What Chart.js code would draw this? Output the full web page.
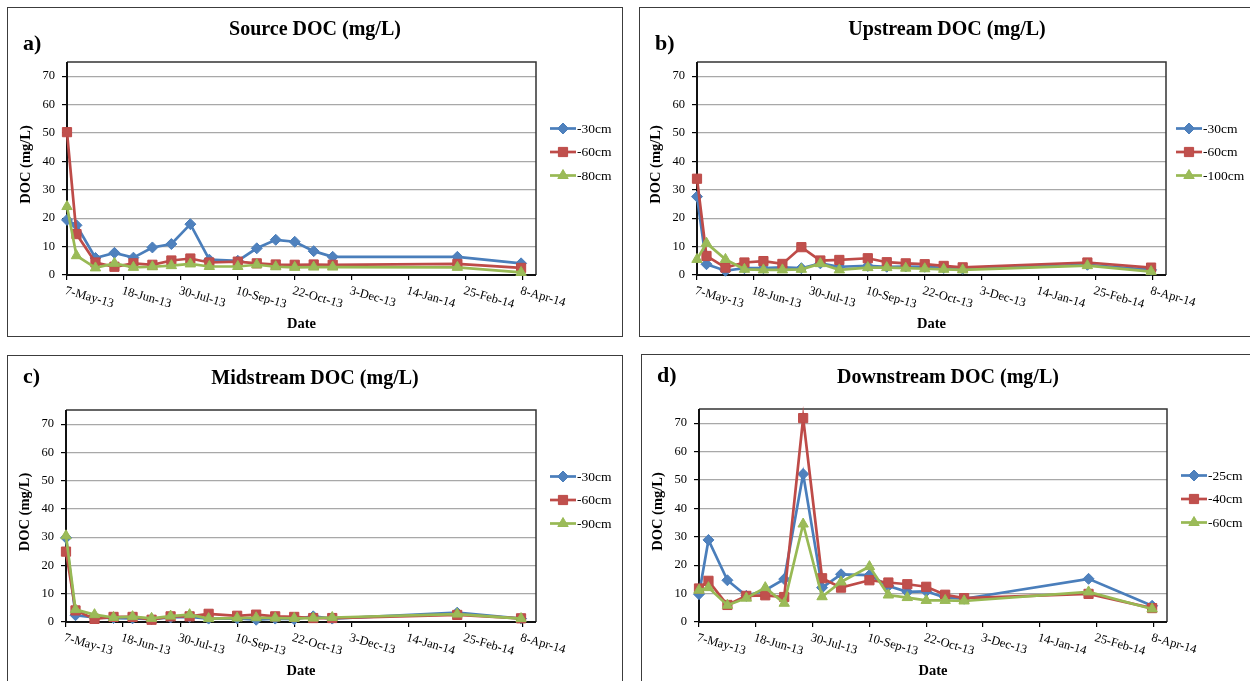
<!DOCTYPE html>
<html>
<head>
<meta charset="utf-8">
<script src="https://cdn.jsdelivr.net/npm/chart.js@4.4.0/dist/chart.umd.min.js"></script>
<style>
  body { margin: 0; background: #fff; width: 1250px; height: 681px; overflow: hidden; position: relative; }
  .panel { position: absolute; border: 1px solid #3c3c3c; background: #fff; }
  .panel canvas { display: block; }
</style>
</head>
<body>
<div class="panel" style="left:7px;top:7px;width:614px;height:328px"><canvas id="srcChart"></canvas></div>
<div class="panel" style="left:639px;top:7px;width:614px;height:328px"><canvas id="upChart"></canvas></div>
<div class="panel" style="left:7px;top:355px;width:614px;height:340px"><canvas id="midChart"></canvas></div>
<div class="panel" style="left:641px;top:354px;width:612px;height:340px"><canvas id="downChart"></canvas></div>
<script>
// sampling dates (same for every site)
const sampleDates = ['2013-05-07', '2013-05-14', '2013-05-28', '2013-06-11', '2013-06-25', '2013-07-09',
  '2013-07-23', '2013-08-06', '2013-08-20', '2013-09-10', '2013-09-24', '2013-10-08', '2013-10-22',
  '2013-11-05', '2013-11-19', '2014-02-19', '2014-04-07'];
const tickDates = ['2013-05-07', '2013-06-18', '2013-07-30', '2013-09-10', '2013-10-22', '2013-12-03',
  '2014-01-14', '2014-02-25', '2014-04-08'];
const tickLabels = ['7-May-13', '18-Jun-13', '30-Jul-13', '10-Sep-13', '22-Oct-13', '3-Dec-13',
  '14-Jan-14', '25-Feb-14', '8-Apr-14'];
const axisEnd = '2014-04-18';
const yTicks = [0, 10, 20, 30, 40, 50, 60, 70];
const yMax = 75;

// DOC (mg/L) by depth
const sourceDepths = ['-30cm', '-60cm', '-80cm'];
const source30 = [19.4, 17.5, 6.0, 7.8, 6.1, 9.7, 10.9, 17.9, 5.4, 5.0, 9.4, 12.4, 11.7, 8.4, 6.4, 6.4, 4.1];
const source60 = [50.3, 14.4, 4.4, 2.9, 4.1, 3.6, 5.1, 5.8, 4.4, 4.7, 4.1, 3.7, 3.6, 3.7, 3.6, 3.9, 2.5];
const source80 = [24.1, 6.8, 2.5, 4.1, 2.7, 2.9, 3.3, 3.9, 3.0, 3.0, 3.6, 2.9, 2.7, 2.8, 2.8, 2.7, 0.9];

const upDepths = ['-30cm', '-60cm', '-100cm'];
const up30 = [27.6, 3.8, 1.5, 2.4, 2.4, 2.7, 2.4, 4.1, 2.9, 3.2, 2.9, 3.0, 2.9, 2.5, 2.2, 3.6, 1.8];
const up60 = [33.9, 6.7, 2.6, 4.4, 4.9, 3.9, 9.8, 5.1, 5.3, 5.9, 4.5, 4.1, 3.8, 3.2, 2.7, 4.4, 2.6];
const up100 = [5.5, 11.2, 5.5, 2.0, 1.8, 1.8, 2.0, 4.0, 1.8, 2.6, 2.6, 2.4, 2.2, 2.0, 1.8, 3.3, 1.2];

const midDepths = ['-30cm', '-60cm', '-90cm'];
const mid30 = [29.8, 2.4, 1.6, 1.4, 1.3, 1.0, 1.6, 1.8, 1.2, 1.3, 0.8, 1.2, 1.0, 2.0, 1.2, 3.3, 1.2];
const mid60 = [24.9, 4.1, 1.1, 1.8, 1.8, 0.8, 2.0, 2.0, 2.9, 2.2, 2.6, 2.0, 1.8, 1.4, 1.4, 2.5, 1.3];
const mid90 = [30.5, 4.4, 2.6, 1.6, 1.9, 1.3, 2.1, 2.6, 1.2, 1.4, 1.5, 1.4, 1.3, 1.4, 1.6, 2.8, 1.2];

const downDepths = ['-25cm', '-40cm', '-60cm'];
const down25 = [9.8, 28.9, 14.7, 9.2, 11.2, 15.1, 52.1, 12.1, 16.8, 16.5, 12.7, 10.6, 10.8, 8.6, 8.2, 15.2, 5.7];
const down40 = [11.8, 14.5, 6.0, 9.2, 9.4, 8.8, 71.8, 15.4, 12.1, 14.7, 13.9, 13.3, 12.4, 9.6, 8.4, 9.9, 4.9];
const down60 = [11.2, 12.1, 5.9, 8.4, 12.1, 6.6, 34.5, 8.9, 14.1, 19.5, 9.5, 8.6, 7.6, 7.6, 7.4, 10.6, 4.6];

const SERIF = '"Liberation Serif", "Times New Roman", serif';
const seriesStyle = [
  { line: '#4A7EBB', fill: '#4F81BD', shape: 'rectRot', radius: 5.5 },
  { line: '#BE4B48', fill: '#C0504D', shape: 'rect', radius: 6.5 },
  { line: '#98B954', fill: '#9BBB59', shape: 'triangle', radius: 6 }
];

const dayOf = s => Math.round((Date.parse(s) - Date.parse(sampleDates[0])) / 864e5);
const sampleDays = sampleDates.map(dayOf);
const tickDays = tickDates.map(dayOf);

// area = plot rectangle inside the canvas: left, top, right, bottom
const panels = [
  { canvas: 'srcChart', letter: 'a)', title: 'Source DOC (mg/L)', depths: sourceDepths,
    series: [source30, source60, source80], area: [59, 54, 528, 267], letterY: 42, titleY: 27, legendGap: 14 },
  { canvas: 'upChart', letter: 'b)', title: 'Upstream DOC (mg/L)', depths: upDepths,
    series: [up30, up60, up100], area: [57, 54, 526, 267], letterY: 42, titleY: 27, legendGap: 10 },
  { canvas: 'midChart', letter: 'c)', title: 'Midstream DOC (mg/L)', depths: midDepths,
    series: [mid30, mid60, mid90], area: [58, 54, 528, 266], letterY: 26.5, titleY: 28, legendGap: 14 },
  { canvas: 'downChart', letter: 'd)', title: 'Downstream DOC (mg/L)', depths: downDepths,
    series: [down25, down40, down60], area: [57, 54, 525, 267], letterY: 27, titleY: 28, legendGap: 14 }
];

function decorPlugin(p) {
  return {
    id: 'decor',
    beforeDatasetsDraw(chart) {
      const { ctx, chartArea: a } = chart;
      ctx.save();
      ctx.strokeStyle = '#333';
      ctx.lineWidth = 1.5;
      ctx.beginPath();
      ctx.moveTo(a.left, a.top); ctx.lineTo(a.right, a.top); ctx.lineTo(a.right, a.bottom);
      ctx.stroke();
      ctx.strokeStyle = '#111';
      ctx.lineWidth = 2;
      ctx.beginPath();
      ctx.moveTo(a.left, a.top); ctx.lineTo(a.left, a.bottom); ctx.lineTo(a.right, a.bottom);
      ctx.stroke();
      ctx.restore();
    },
    afterDraw(chart) {
      const { ctx, chartArea: a, width } = chart;
      const xs = chart.scales.x;
      ctx.save();
      ctx.fillStyle = '#000';

      // panel letter and title
      ctx.textBaseline = 'alphabetic';
      ctx.textAlign = 'left';
      ctx.font = 'bold 22px ' + SERIF;
      ctx.fillText(p.letter, 15, p.letterY);
      ctx.textAlign = 'center';
      ctx.font = 'bold 20px ' + SERIF;
      ctx.fillText(p.title, width / 2, p.titleY);

      // slanted date labels
      ctx.font = '12.5px ' + SERIF;
      ctx.textAlign = 'left';
      ctx.textBaseline = 'top';
      tickDays.forEach((d, i) => {
        ctx.save();
        ctx.translate(xs.getPixelForValue(d), a.bottom + 9.5);
        ctx.rotate(16 * Math.PI / 180);
        ctx.fillText(tickLabels[i], 0, 0);
        ctx.restore();
      });

      // axis titles
      ctx.font = 'bold 14.5px ' + SERIF;
      ctx.textAlign = 'center';
      ctx.textBaseline = 'alphabetic';
      ctx.fillText('Date', (a.left + a.right) / 2, a.bottom + 53);
      ctx.save();
      ctx.translate(a.left - 41, (a.top + a.bottom) / 2 - 4);
      ctx.rotate(-Math.PI / 2);
      ctx.textBaseline = 'middle';
      ctx.fillText('DOC (mg/L)', 0, 0);
      ctx.restore();

      // legend: line segment with marker
      ctx.font = '13.5px ' + SERIF;
      ctx.textAlign = 'left';
      ctx.textBaseline = 'middle';
      p.depths.forEach((label, i) => {
        const st = seriesStyle[i];
        const y = a.top + 66.5 + 23.5 * i;
        const x0 = a.right + p.legendGap;
        ctx.strokeStyle = st.line;
        ctx.lineWidth = 2.7;
        ctx.beginPath();
        ctx.moveTo(x0, y); ctx.lineTo(x0 + 26, y);
        ctx.stroke();
        ctx.fillStyle = st.fill;
        ctx.strokeStyle = st.line;
        ctx.lineWidth = 1;
        Chart.helpers.drawPoint(ctx, { pointStyle: st.shape, radius: st.radius, rotation: 0, borderWidth: 1 }, x0 + 13, y);
        ctx.fillStyle = '#000';
        ctx.fillText(label, x0 + 27, y + 0.5);
      });
      ctx.restore();
    }
  };
}

function buildPanel(p) {
  const canvas = document.getElementById(p.canvas);
  const box = canvas.parentElement;
  const W = box.clientWidth, H = box.clientHeight;
  canvas.width = W;
  canvas.height = H;
  const [left, top, right, bottom] = p.area;

  const datasets = p.series.map((vals, i) => {
    const st = seriesStyle[i];
    return {
      label: p.depths[i],
      data: vals.map((v, k) => ({ x: sampleDays[k], y: v })),
      borderColor: st.line,
      borderWidth: 2.7,
      backgroundColor: st.fill,
      pointBackgroundColor: st.fill,
      pointBorderColor: st.line,
      pointBorderWidth: 1,
      pointStyle: st.shape,
      pointRadius: st.radius,
      tension: 0,
      clip: false,
      order: 3 - i
    };
  });

  return new Chart(canvas, {
    type: 'line',
    data: { datasets },
    options: {
      responsive: false,
      animation: false,
      devicePixelRatio: 1,
      layout: { padding: { left: 0, top: top, right: W - right, bottom: 0 } },
      plugins: { legend: { display: false }, title: { display: false }, tooltip: { enabled: false } },
      scales: {
        x: {
          type: 'linear',
          min: 0,
          max: dayOf(axisEnd),
          ticks: { display: false, stepSize: 42 },
          afterBuildTicks: s => { s.ticks = tickDays.map(v => ({ value: v })); },
          afterFit: s => { s.height = H - bottom; },
          grid: { drawOnChartArea: false, drawTicks: true, tickLength: 5, color: '#000', tickColor: '#000', lineWidth: 1.2 },
          border: { display: false }
        },
        y: {
          min: 0,
          max: yMax,
          ticks: { stepSize: 10, padding: 7, color: '#000', font: { family: SERIF, size: 12.5 } },
          afterBuildTicks: s => { s.ticks = yTicks.map(v => ({ value: v })); },
          afterFit: s => { s.width = left; },
          grid: { color: '#a8a8a8', lineWidth: 1.2, tickColor: '#000', tickLength: 5 },
          border: { display: false }
        }
      }
    },
    plugins: [decorPlugin(p)]
  });
}

panels.forEach(buildPanel);
</script>
</body>
</html>
